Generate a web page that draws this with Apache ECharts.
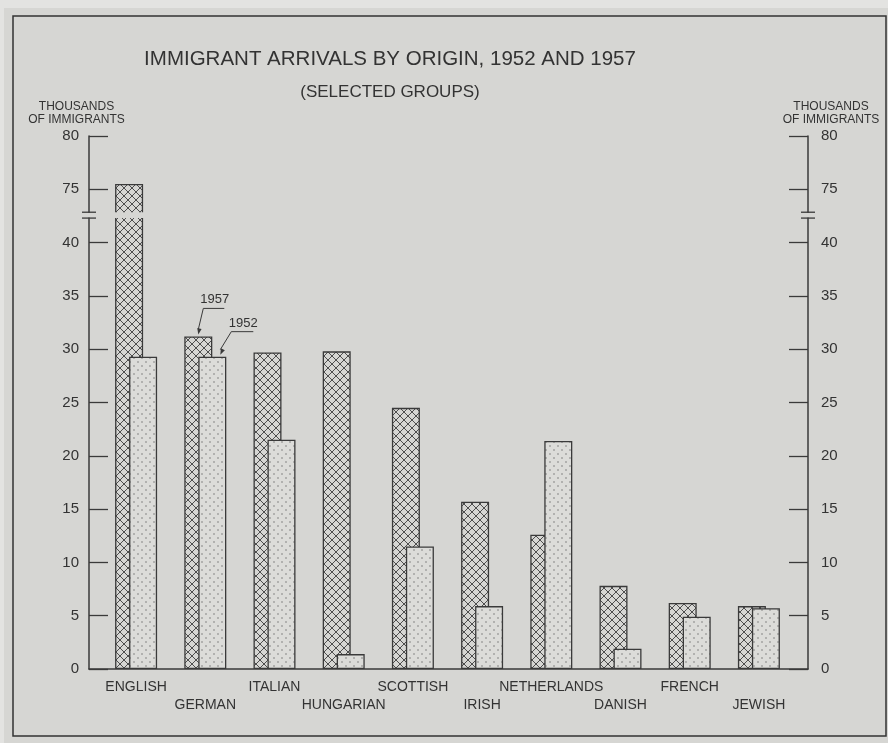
<!DOCTYPE html>
<html>
<head>
<meta charset="utf-8">
<script src="https://cdn.jsdelivr.net/npm/echarts@6.0.0/dist/echarts.min.js"></script>
<style>
html,body{margin:0;padding:0;background:#e3e3e1;}
#chart{width:888px;height:743px;}
</style>
</head>
<body>
<div id="chart"></div>
<script>
// ---- data (thousands of immigrants) ----
const categories = ['ENGLISH','GERMAN','ITALIAN','HUNGARIAN','SCOTTISH','IRISH','NETHERLANDS','DANISH','FRENCH','JEWISH'];
const arrivals1957 = [75.5, 31.2, 29.7, 29.8, 24.5, 15.7, 12.6, 7.8, 6.2, 5.9];
const arrivals1952 = [29.3, 29.3, 21.5, 1.4, 11.5, 5.9, 21.4, 1.9, 4.9, 5.7];
const yTickLabels = ['0','5','10','15','20','25','30','35','40','75','80'];
const seriesNames = ['1957','1952'];
const titleText = 'IMMIGRANT ARRIVALS BY ORIGIN, 1952 AND 1957';
const subtitleText = '(SELECTED GROUPS)';
const axisTitle = 'THOUSANDS\nOF IMMIGRANTS';

// ---- broken scale: 0..40 linear, then 75..80 directly above ----
const BREAK_LOW = 40, BREAK_HIGH = 75;
function plot(v){ return v <= BREAK_LOW ? v : v - (BREAK_HIGH - BREAK_LOW - 5); }
const BREAK_GAP = [42.3, 42.85];

const BG = '#d6d6d3';
const PAGE = '#e3e3e1';
const INK = '#3a3a3a';
const FONT = 'Liberation Sans';

function hatchPattern(){
  const s = 8, c = document.createElement('canvas');
  c.width = c.height = s;
  const g = c.getContext('2d');
  g.fillStyle = BG; g.fillRect(0,0,s,s);
  g.strokeStyle = '#4e4e4e'; g.lineWidth = 1;
  g.beginPath();
  g.moveTo(-1,-1); g.lineTo(s+1,s+1);
  g.moveTo(s+1,-1); g.lineTo(-1,s+1);
  g.stroke();
  return c;
}
function stipplePattern(){
  const s = 8, c = document.createElement('canvas');
  c.width = c.height = s;
  const g = c.getContext('2d');
  g.fillStyle = '#dcdcd9'; g.fillRect(0,0,s,s);
  g.fillStyle = '#707070';
  [[2,2],[6,6]].forEach(function(p){ g.beginPath(); g.arc(p[0],p[1],0.75,0,Math.PI*2); g.fill(); });
  return c;
}

const chart = echarts.init(document.getElementById('chart'), null, {renderer:'canvas'});

const GRID_TOP = 136, GRID_H = 533;
const option = {
  backgroundColor: PAGE,
  animation: false,
  title: [
    {text: titleText, left: 385, top: 44, textAlign: 'center',
     textStyle: {fontFamily: FONT, fontSize: 20.5, fontWeight: 'normal', color: '#333'}},
    {text: subtitleText, left: 385, top: 79, textAlign: 'center',
     textStyle: {fontFamily: FONT, fontSize: 17, fontWeight: 'normal', color: '#333'}},
    {text: axisTitle, left: 71.5, top: 94.5, textAlign: 'center',
     textStyle: {fontFamily: FONT, fontSize: 12, fontWeight: 'normal', color: '#333', lineHeight: 13.5, align: 'center'}},
    {text: axisTitle, left: 826, top: 94.5, textAlign: 'center',
     textStyle: {fontFamily: FONT, fontSize: 12, fontWeight: 'normal', color: '#333', lineHeight: 13.5, align: 'center'}}
  ],
  grid: [
    {left: 89, width: 719, top: GRID_TOP, height: GRID_H, containLabel: false},
    {left: 101.5, width: 692, top: GRID_TOP, height: GRID_H, containLabel: false}
  ],
  xAxis: [
    {gridIndex: 0, type: 'value', min: 0, max: 1,
     axisLine: {show: true, onZero: false, lineStyle: {color: INK, width: 1.5}},
     axisTick: {show: false}, axisLabel: {show: false}, splitLine: {show: false}},
    {gridIndex: 1, type: 'category', data: categories,
     axisLine: {show: false}, axisTick: {show: false}, splitLine: {show: false},
     axisLabel: {interval: 0, margin: 9, fontFamily: FONT, fontSize: 14, lineHeight: 18, color: '#333',
       formatter: function(v, i){ return i % 2 ? '\n' + v : v; }}}
  ],
  yAxis: [
    {gridIndex: 0, type: 'value', position: 'left', min: 0, max: 50, interval: 5,
     axisLine: {show: true, lineStyle: {color: INK, width: 1.5}},
     axisTick: {show: true, inside: true, length: 19, lineStyle: {color: INK, width: 1.3}},
     axisLabel: {margin: 10, fontFamily: FONT, fontSize: 15, color: '#333',
       formatter: function(v){ return yTickLabels[Math.round(v/5)]; }},
     splitLine: {show: false}},
    {gridIndex: 0, type: 'value', position: 'right', min: 0, max: 50, interval: 5,
     axisLine: {show: true, lineStyle: {color: INK, width: 1.5}},
     axisTick: {show: true, inside: true, length: 19, lineStyle: {color: INK, width: 1.3}},
     axisLabel: {margin: 13, fontFamily: FONT, fontSize: 15, color: '#333',
       formatter: function(v){ return yTickLabels[Math.round(v/5)]; }},
     splitLine: {show: false}},
    {gridIndex: 1, type: 'value', min: 0, max: 50, show: false}
  ],
  series: [
    {type: 'bar', name: seriesNames[0], xAxisIndex: 1, yAxisIndex: 2,
     data: arrivals1957.map(plot), barWidth: 28, barGap: '-50%',
     itemStyle: {color: {image: hatchPattern(), repeat: 'repeat'}, borderColor: INK, borderWidth: 1.3}},
    {type: 'bar', name: seriesNames[1], xAxisIndex: 1, yAxisIndex: 2,
     data: arrivals1952.map(plot), barWidth: 28, barGap: '-50%',
     itemStyle: {color: {image: stipplePattern(), repeat: 'repeat'}, borderColor: INK, borderWidth: 1.3},
     markArea: {silent: true, z: 10, itemStyle: {color: BG, borderWidth: 0},
       data: [[{yAxis: BREAK_GAP[0]}, {yAxis: BREAK_GAP[1]}]]}}
  ]
};
chart.setOption(option);

// ---- decorations placed through the axes' own scales ----
const yLo = chart.convertToPixel({yAxisIndex: 0}, BREAK_GAP[0]);
const yHi = chart.convertToPixel({yAxisIndex: 0}, BREAK_GAP[1]);
const xLeft = chart.convertToPixel({xAxisIndex: 0}, 0);
const xRight = chart.convertToPixel({xAxisIndex: 0}, 1);
const graphics = [];
graphics.push({type: 'rect', z: -100, silent: true, shape: {x: 4, y: 8, width: 884, height: 735}, style: {fill: BG}});
graphics.push({type: 'rect', z: 100, shape: {x: 13, y: 16, width: 873, height: 720},
  style: {fill: null, stroke: '#333', lineWidth: 1.5}, silent: true});
[xLeft, xRight].forEach(function(ax){
  graphics.push({type: 'rect', z: 100, shape: {x: ax - 3, y: yHi + 0.5, width: 6, height: yLo - yHi - 1}, style: {fill: BG}});
  graphics.push({type: 'line', z: 101, shape: {x1: ax - 7, y1: yHi, x2: ax + 7, y2: yHi}, style: {stroke: INK, lineWidth: 1.3}});
  graphics.push({type: 'line', z: 101, shape: {x1: ax - 7, y1: yLo, x2: ax + 7, y2: yLo}, style: {stroke: INK, lineWidth: 1.3}});
});

// legend annotations pointing at the GERMAN bars
const gi = 1;
const p57 = chart.convertToPixel({xAxisIndex: 1, yAxisIndex: 2}, [gi, plot(arrivals1957[gi])]);
const p52 = chart.convertToPixel({xAxisIndex: 1, yAxisIndex: 2}, [gi, plot(arrivals1952[gi])]);
function annotation(label, tipX, tipY, ulX1, ulX2, ulY){
  graphics.push({type: 'polyline', z: 101, shape: {points: [[ulX2, ulY], [ulX1, ulY], [tipX, tipY - 5]]},
    style: {stroke: INK, lineWidth: 1, fill: null}});
  const dx = tipX - ulX1, dy = tipY - ulY, len = Math.sqrt(dx*dx + dy*dy);
  const ux = dx/len, uy = dy/len;
  graphics.push({type: 'polygon', z: 101, shape: {points: [[tipX, tipY], [tipX - ux*6 - uy*2.2, tipY - uy*6 + ux*2.2], [tipX - ux*6 + uy*2.2, tipY - uy*6 - ux*2.2]]},
    style: {fill: INK}});
  graphics.push({type: 'text', z: 101, style: {text: label, x: (ulX1 + ulX2)/2 + 1, y: ulY - 2, align: 'center', verticalAlign: 'bottom',
    font: '13px "' + FONT + '"', fill: '#333'}});
}
annotation(seriesNames[0], p57[0] - 7, p57[1] - 2, p57[0] - 2, p57[0] + 19, p57[1] - 28);
annotation(seriesNames[1], p52[0] + 15, p52[1] - 2, p52[0] + 26, p52[0] + 48, p52[1] - 25);

chart.setOption({graphic: graphics});
</script>
</body>
</html>
